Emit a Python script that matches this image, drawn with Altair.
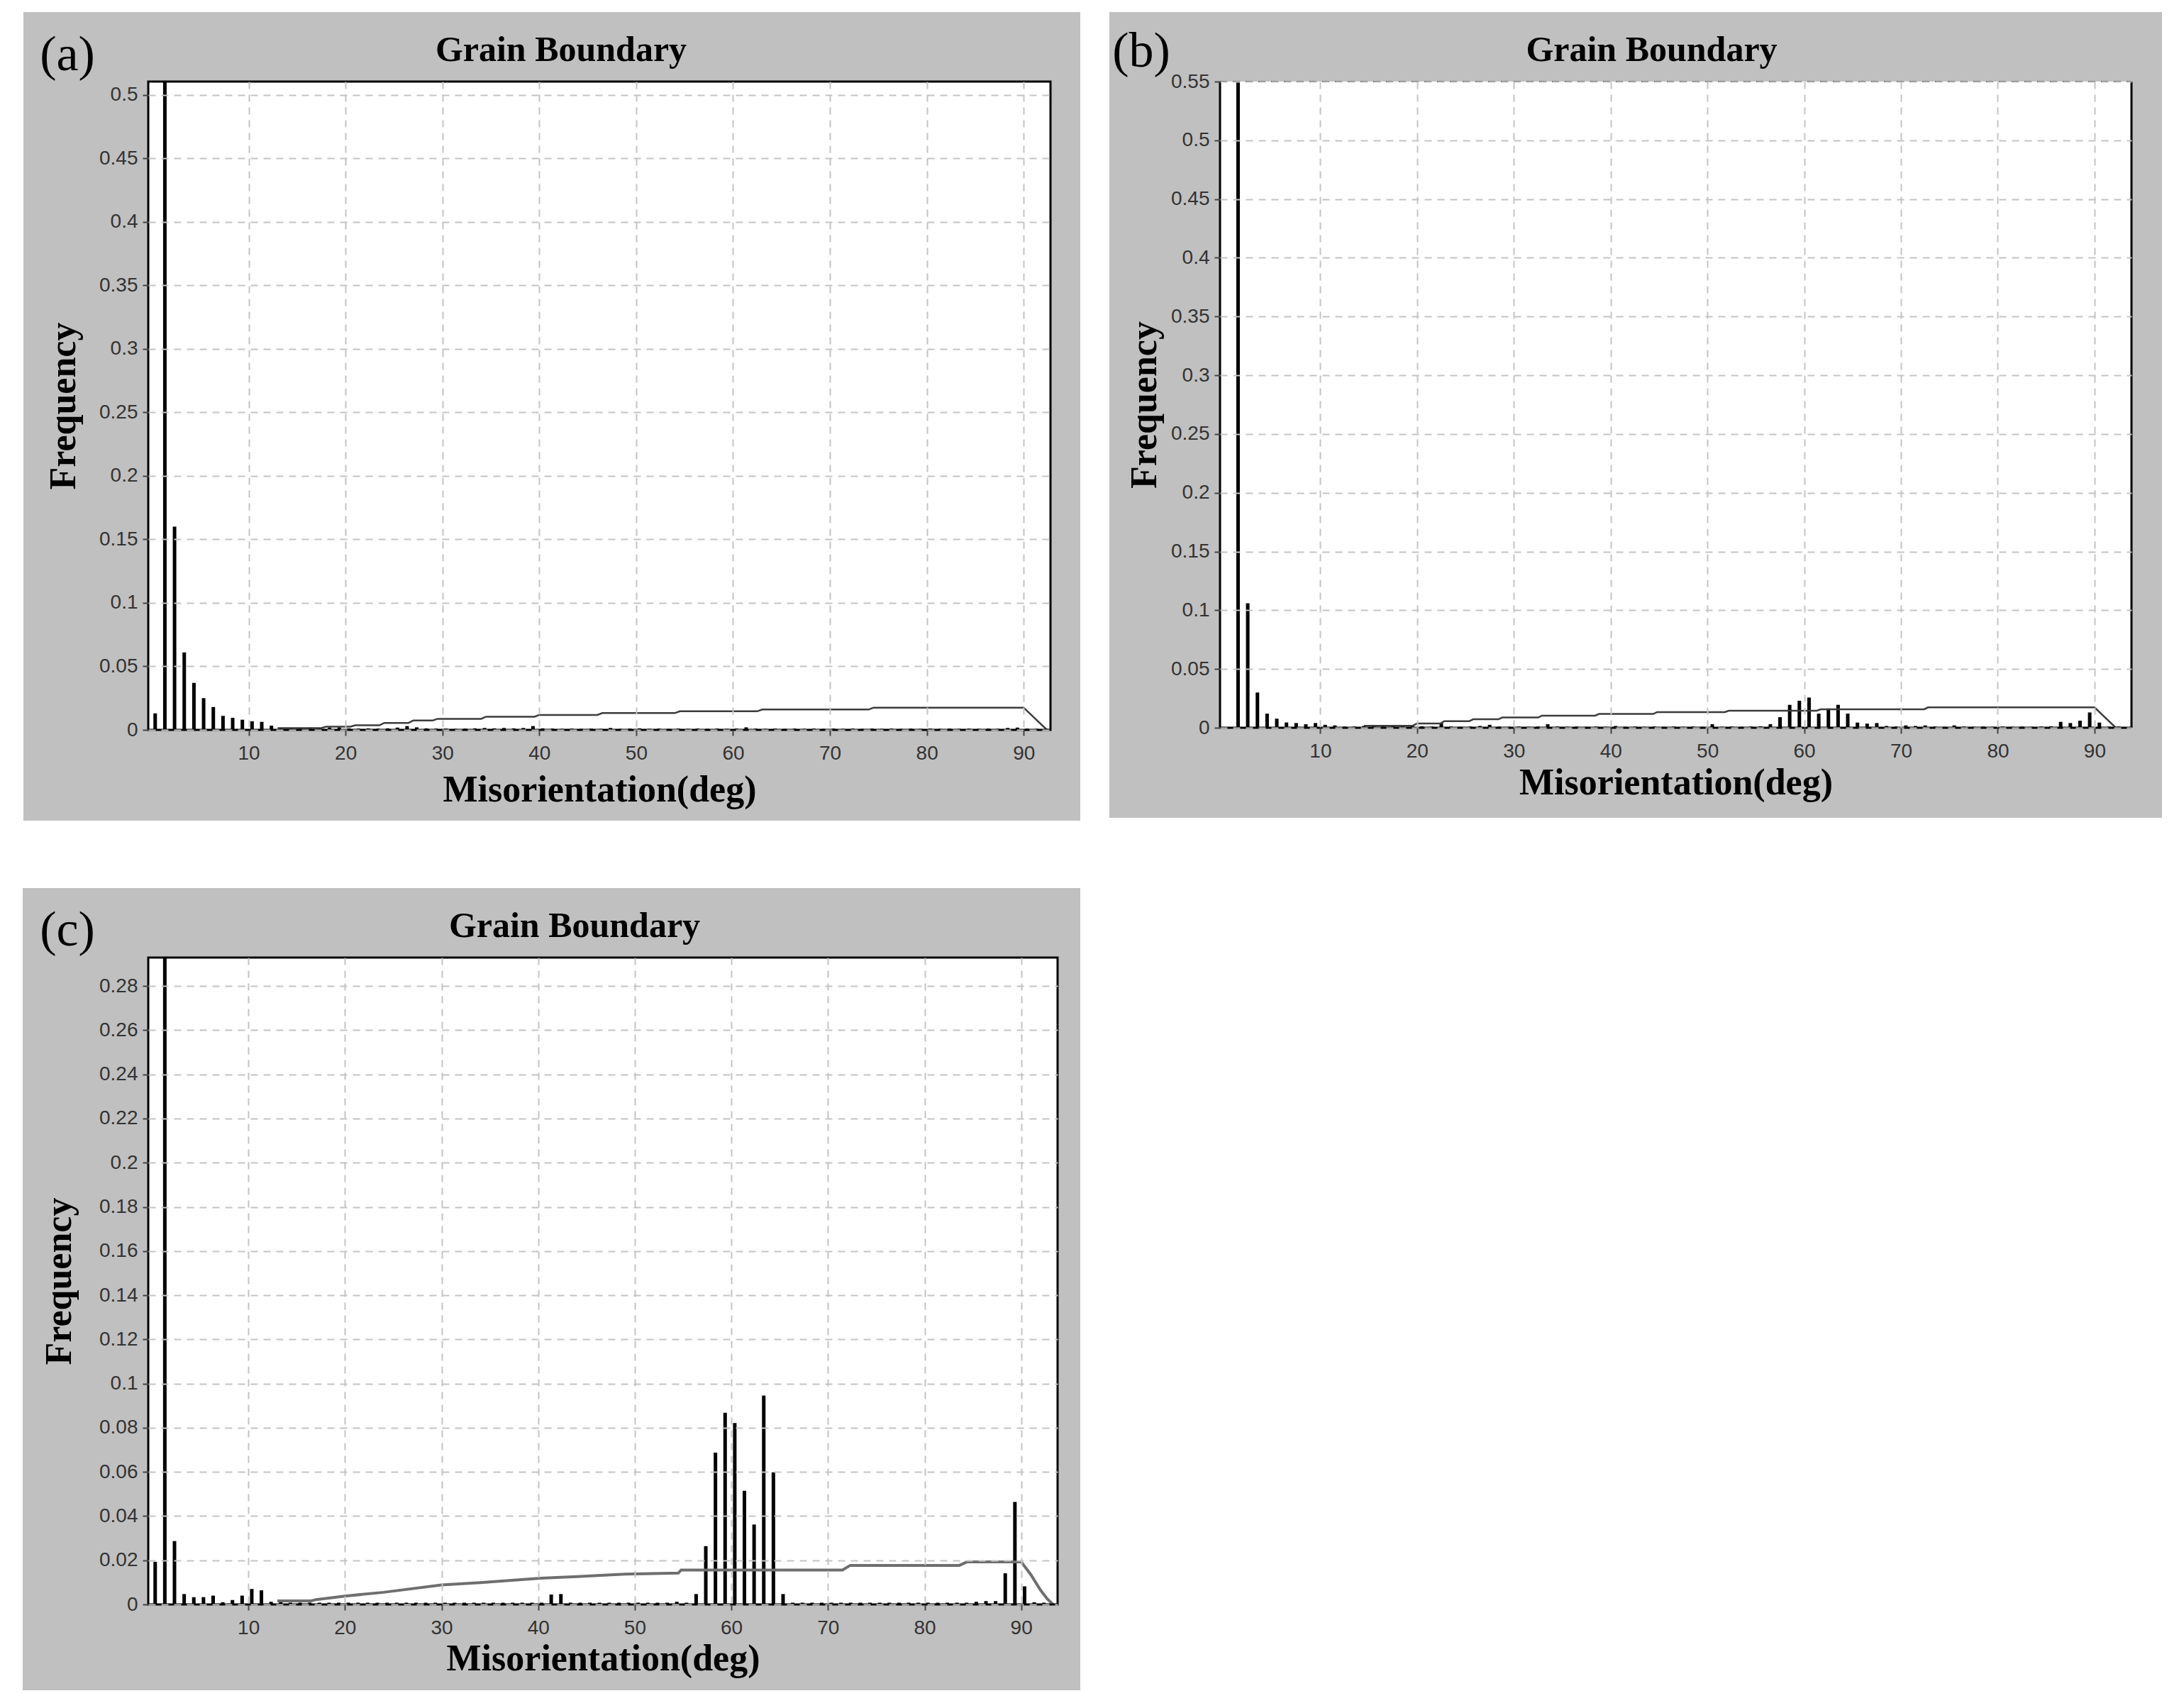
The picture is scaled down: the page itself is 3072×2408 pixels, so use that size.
import altair as alt
import pandas as pd

# ---------------- data (frequency per 1-degree misorientation bin, bins 0..92) ----------------
freq_a = [
    0.013, 0.58, 0.160, 0.061, 0.037, 0.025, 0.018, 0.011, 0.0095, 0.008,
    0.0068, 0.0063, 0.0033, 0.0015, 0.001, 0.0015, 0.0018, 0.0015, 0.0018, 0.002,
    0.0012, 0.001, 0.0012, 0.001, 0.0012, 0.0018, 0.003, 0.002, 0.0012, 0.001,
    0.001, 0.0008, 0.001, 0.0012, 0.0015, 0.0012, 0.0015, 0.0012, 0.0015, 0.003,
    0.0012, 0.001, 0.0008, 0.001, 0.0008, 0.001, 0.0008, 0.0015, 0.0008, 0.001,
    0.0012, 0.0008, 0.001, 0.0008, 0.001, 0.0008, 0.001, 0.0008, 0.001, 0.0008,
    0.001, 0.002, 0.001, 0.0008, 0.001, 0.0008, 0.001, 0.0008, 0.001, 0.0008,
    0.001, 0.0008, 0.001, 0.0008, 0.001, 0.0008, 0.001, 0.0008, 0.001, 0.0008,
    0.001, 0.0008, 0.001, 0.0008, 0.001, 0.0008, 0.001, 0.0008, 0.0015, 0.0018,
    0.001, 0.0008, 0.0008,
]
freq_b = [
    0.0, 0.62, 0.106, 0.030, 0.012, 0.0077, 0.0045, 0.004, 0.003, 0.004,
    0.0025, 0.002, 0.001, 0.001, 0.0015, 0.002, 0.002, 0.002, 0.002, 0.002,
    0.0012, 0.001, 0.004, 0.001, 0.0008, 0.001, 0.0015, 0.0025, 0.001, 0.0008,
    0.001, 0.0008, 0.001, 0.003, 0.001, 0.0008, 0.001, 0.0008, 0.001, 0.0008,
    0.0015, 0.0008, 0.001, 0.0008, 0.001, 0.0008, 0.001, 0.0008, 0.001, 0.0008,
    0.003, 0.0008, 0.001, 0.0008, 0.001, 0.0012, 0.003, 0.009, 0.0195, 0.023,
    0.0257, 0.012, 0.0164, 0.0195, 0.012, 0.0044, 0.0035, 0.004, 0.0015, 0.001,
    0.002, 0.0015, 0.002, 0.001, 0.0008, 0.002, 0.001, 0.0008, 0.001, 0.0008,
    0.001, 0.0008, 0.001, 0.0008, 0.001, 0.0012, 0.005, 0.004, 0.006, 0.013,
    0.0044, 0.001, 0.001,
]
freq_c = [
    0.0193, 0.32, 0.0287, 0.0047, 0.0033, 0.0033, 0.004, 0.001, 0.002, 0.004,
    0.007, 0.0064, 0.0012, 0.001, 0.0008, 0.0008, 0.0008, 0.0008, 0.0008, 0.0008,
    0.0008, 0.0008, 0.0008, 0.0008, 0.0008, 0.0008, 0.0008, 0.0008, 0.0008, 0.0008,
    0.0008, 0.0008, 0.0008, 0.0008, 0.0008, 0.0008, 0.0008, 0.0008, 0.0008, 0.0008,
    0.0008, 0.0045, 0.0047, 0.0008, 0.0008, 0.0008, 0.0008, 0.0008, 0.0008, 0.0008,
    0.0008, 0.0008, 0.0008, 0.0008, 0.0012, 0.0008, 0.0047, 0.0264, 0.0687, 0.0868,
    0.0821, 0.0515, 0.0362, 0.0946, 0.0598, 0.0047, 0.0008, 0.0008, 0.0008, 0.0008,
    0.0008, 0.0008, 0.0008, 0.0008, 0.0008, 0.0008, 0.0008, 0.0008, 0.0008, 0.0008,
    0.0008, 0.0008, 0.0008, 0.0008, 0.0008, 0.0012, 0.0015, 0.0015, 0.0141, 0.0464,
    0.0082, 0.001, 0.0008,
]

# random (Mackenzie-type) reference distribution
rand_a_x = [13, 17.5, 18, 20.5, 21, 23.5, 24, 26.5, 27, 29, 29.5, 34, 34.5, 39.5, 40,
            46, 46.5, 54, 54.5, 62.5, 63, 74, 74.5, 90, 92.4]
rand_a_y = [0.0014, 0.0014, 0.0025, 0.0025, 0.0036, 0.0036, 0.0055, 0.0055, 0.0074, 0.0074,
            0.0087, 0.0087, 0.0104, 0.0104, 0.0118, 0.0118, 0.0132, 0.0132, 0.0146, 0.0146,
            0.0160, 0.0160, 0.0175, 0.0175, 0.0]
rand_b_x = [14.5, 19.5, 20, 22.4, 22.8, 25.4, 25.8, 28.4, 28.8, 32.5, 32.9, 38.4, 38.8,
            44.4, 44.8, 51.8, 52.2, 61.3, 61.7, 72.4, 72.8, 90, 92.2]
rand_b_y = [0.0016, 0.0016, 0.0036, 0.0036, 0.0056, 0.0056, 0.0072, 0.0072, 0.0087, 0.0087,
            0.0103, 0.0103, 0.0117, 0.0117, 0.0133, 0.0133, 0.0145, 0.0145, 0.0157, 0.0157,
            0.0173, 0.0173, 0.0]
rand_c_x = [13, 16.5, 17, 20, 24, 30, 34, 40, 44, 49, 54.5, 54.8, 71.5, 72.3, 83.6, 84.4,
            90, 91, 92, 92.7, 93.3]
rand_c_y = [0.0016, 0.0016, 0.0022, 0.0038, 0.0055, 0.0088, 0.0099, 0.0118, 0.0126, 0.0137,
            0.0142, 0.0156, 0.0156, 0.0177, 0.0177, 0.0193, 0.0193, 0.0135, 0.0065, 0.0025, 0.0]

x_ticks = [10, 20, 30, 40, 50, 60, 70, 80, 90]
y_ticks_a = [0, 0.05, 0.1, 0.15, 0.2, 0.25, 0.3, 0.35, 0.4, 0.45, 0.5]
y_ticks_b = [0, 0.05, 0.1, 0.15, 0.2, 0.25, 0.3, 0.35, 0.4, 0.45, 0.5, 0.55]
y_ticks_c = [0, 0.02, 0.04, 0.06, 0.08, 0.1, 0.12, 0.14, 0.16, 0.18, 0.2, 0.22, 0.24, 0.26, 0.28]

panel_labels = ["(a)", "(b)", "(c)"]
TITLE = "Grain Boundary"
X_TITLE = "Misorientation(deg)"
Y_TITLE = "Frequency"

GRAY = "#c0c0c0"
SERIF = "Liberation Serif"
SANS = "Liberation Sans"


def panel(freqs, offset, rx, ry, xmax, ymax, yticks, W, H, ext, label, label_xy,
          title_dx, ytitle_x, xtitle_y, top_solid, line_color, line_width):
    bars_df = pd.DataFrame({"deg": [i + offset for i in range(len(freqs))], "freq": freqs})
    line_df = pd.DataFrame({"deg": rx, "freq": ry})
    one = pd.DataFrame({"k": [0]})

    x_axis = alt.Axis(
        values=x_ticks, format="d", title=X_TITLE, titleFont=SERIF, titleFontSize=52,
        titleFontWeight="bold", titleColor="black", titleY=xtitle_y, titleBaseline="middle",
        labelFont=SANS, labelFontSize=28, labelColor="#333333", labelPadding=11,
        labelOverlap=False, tickSize=8, tickColor="#444444", tickWidth=2, domain=False,
        grid=True, gridColor="#c4c4c4", gridDash=[10, 8], gridWidth=2, zindex=1,
    )
    y_axis = alt.Axis(
        values=yticks, format="~g", title=Y_TITLE, titleFont=SERIF, titleFontSize=52,
        titleFontWeight="bold", titleColor="black", titleX=ytitle_x, titleBaseline="middle",
        labelFont=SANS, labelFontSize=28, labelColor="#333333", labelPadding=7,
        labelOverlap=False, tickSize=8, tickColor="#444444", tickWidth=2, domain=False,
        grid=True, gridColor="#c4c4c4", gridDash=[10, 8], gridWidth=2, zindex=1,
    )
    xenc = alt.X("deg:Q", scale=alt.Scale(domain=[0, xmax], nice=False, zero=False), axis=x_axis)
    yenc = alt.Y("freq:Q", scale=alt.Scale(domain=[0, ymax], nice=False), axis=y_axis)

    l, r, t, b = ext
    bg = alt.Chart(one).mark_rect(color=GRAY).encode(
        x=alt.value(-l), x2=alt.value(W + r), y=alt.value(-t), y2=alt.value(H + b))
    white = alt.Chart(one).mark_rect(color="white").encode(
        x=alt.value(0), x2=alt.value(W), y=alt.value(0), y2=alt.value(H))
    bars = alt.Chart(bars_df).mark_bar(color="black", size=5, orient="vertical", clip=True).encode(
        x=xenc, y=yenc)
    line = alt.Chart(line_df).mark_line(color=line_color, strokeWidth=line_width, clip=True).encode(
        x=xenc, y=yenc)

    layers = [bg, white, bars, line]
    if top_solid:
        layers.append(alt.Chart(one).mark_rect(filled=False, color="black", strokeWidth=3).encode(
            x=alt.value(0), x2=alt.value(W), y=alt.value(0), y2=alt.value(H)))
    else:
        layers.append(alt.Chart(one).mark_rule(color="#444444", strokeWidth=2, strokeDash=[10, 8]).encode(
            x=alt.value(0), x2=alt.value(W), y=alt.value(0)))
        layers.append(alt.Chart(one).mark_rule(color="black", strokeWidth=3).encode(
            x=alt.value(0), y=alt.value(0), y2=alt.value(H)))
        layers.append(alt.Chart(one).mark_rule(color="black", strokeWidth=3).encode(
            x=alt.value(W), y=alt.value(0), y2=alt.value(H)))
        layers.append(alt.Chart(one).mark_rule(color="black", strokeWidth=3).encode(
            x=alt.value(0), x2=alt.value(W), y=alt.value(H)))

    layers.append(alt.Chart(one).mark_text(
        text=label, font=SERIF, fontSize=70, align="center", baseline="middle", color="black"
    ).encode(x=alt.value(label_xy[0]), y=alt.value(label_xy[1])))
    layers.append(alt.Chart(one).mark_text(
        text=TITLE, font=SERIF, fontSize=50, fontWeight="bold", align="center",
        baseline="middle", color="black"
    ).encode(x=alt.value(W / 2 + title_dx), y=alt.value(-44)))

    return alt.layer(*layers).properties(width=W, height=H)


pa = panel(freq_a, 0.35, rand_a_x, rand_a_y, 92.4, 0.5106, y_ticks_a, 1272, 914,
           (176, 42, 98, 128), panel_labels[0], (-114, -37), -54, -120, 84, True, "#3c3c3c", 2.5)
pb = panel(freq_b, 0.5, rand_b_x, rand_b_y, 93.45, 0.55, y_ticks_b, 1285, 911,
           (156, 43, 98, 127), panel_labels[1], (-111, -42), -34, -107, 77, False, "#3c3c3c", 2.5)
pc = panel(freq_c, 0.35, rand_c_x, rand_c_y, 93.4, 0.2929, y_ticks_c, 1282, 912,
           (177, 32, 98, 121), panel_labels[2], (-114, -38), -40, -126, 76, True, "#6e6e6e", 4)

top = alt.hconcat(pa, pb, spacing=41)
chart = alt.vconcat(top, pc, spacing=95).properties(
    padding={"left": 24, "top": 9, "right": 5, "bottom": 5},
    background="white",
).configure_view(strokeWidth=0)

chart.save("out.html", embed_options={"renderer": "svg", "actions": False})
